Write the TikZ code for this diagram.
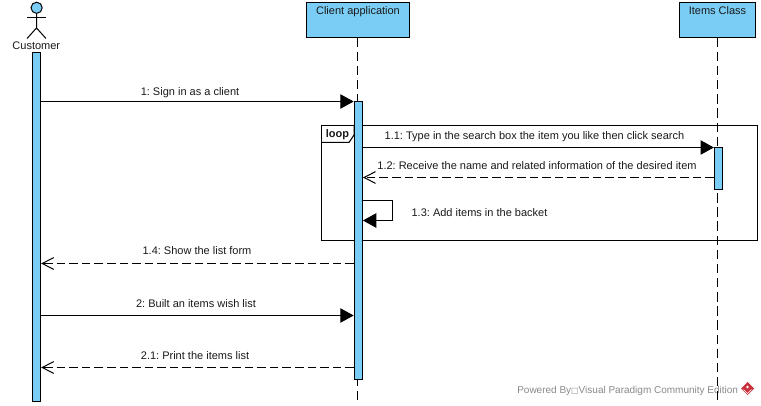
\documentclass[tikz,border=0pt]{standalone}
\usepackage{fontspec}
\setmainfont{Liberation Sans}
\newfontfamily\glyphfont{DejaVu Sans}
\usetikzlibrary{arrows.meta}
\definecolor{vpblue}{HTML}{7ACDF4}
\definecolor{vptext}{HTML}{1A1A1A}
\definecolor{vpgray}{HTML}{8A8A8A}
\definecolor{vpred}{HTML}{C8323C}
\tikzset{
  x=0.75pt, y=-0.75pt,
  every node/.style={font=\fontsize{8.25pt}{10pt}\selectfont\frenchspacing, text=vptext, inner sep=0pt},
  vpline/.style={line width=0.75pt, black},
  headbox/.style={draw=black, line width=0.75pt, fill=vpblue, minimum height=25.9pt},
  actbar/.style={draw=black, line width=0.75pt, fill=vpblue, minimum width=6.2pt},
  lifeline/.style={vpline, dash pattern=on 7pt off 3.6pt},
  callmsg/.style={vpline, -{Triangle[length=10pt,width=10.8pt]}},
  retmsg/.style={vpline, dash pattern=on 6.4pt off 3pt, -{Straight Barb[length=8.6pt,width=8.8pt,line width=0.75pt]}},
  msgtext/.style={anchor=base},
  stick/.style={line width=0.75pt, black}
}
\begin{document}
\begin{tikzpicture}
\useasboundingbox (0,0) rectangle (761,406);
\fill[white] (0,0) rectangle (761,406);

% watermark
\node[anchor=base west, text=vpgray, font=\fontsize{7.5pt}{10pt}\selectfont\frenchspacing] (wm) at (517,393.5) {Powered By{\glyphfont\fontsize{6pt}{8pt}\selectfont □}Visual Paradigm Community Edition};
\fill[vpred] (747.5,382) -- (754,388.5) -- (747.5,395) -- (741,388.5) -- cycle;
\draw[white, line width=0.5pt] (743.5,389.5) -- (747.5,393.5) -- (751.5,389.5);
\fill[white] (747.5,387) circle (1.4);

% heads
\node[headbox, minimum width=77.25pt] (client) at (358,20) {};
\node[headbox, minimum width=57pt] (items) at (717.5,20) {};
\node[msgtext] (clientlabel) at (358,14.6) {Client application};
\node[msgtext] (itemslabel) at (717.5,14.6) {Items Class};

% actor
\node[draw=black, line width=0.75pt, fill=vpblue, circle, minimum size=8.4pt] (head) at (36.6,7.8) {};
\coordinate (hip) at (36.5,28);
\coordinate (armL) at (27,18);
\coordinate (armR) at (46,18);
\coordinate (legL) at (27,38.5);
\coordinate (legR) at (46,38.5);
\draw[stick] (head.south) -- (hip);
\draw[stick] (armL) -- (armR);
\draw[stick] (legL) -- (hip) -- (legR);
\node[msgtext] (customer) at (36.3,49.3) {Customer};

% lifeline ends
\coordinate (clientEnd) at (357.5,402);
\coordinate (itemsEnd) at (717.5,402);
\draw[lifeline] (client.south -| clientEnd) -- (clientEnd);
\draw[lifeline] (items.south -| itemsEnd) -- (itemsEnd);

% loop frame
\node[draw=black, line width=0.75pt, minimum width=327pt, minimum height=86.25pt] (frame) at (539.5,183) {};
\coordinate (tabA) at (321.5,142.5);
\coordinate (tabB) at (349,142.5);
\coordinate (tabC) at (354,135);
\coordinate (tabD) at (354,125.5);
\draw[vpline] (tabA) -- (tabB) -- (tabC) -- (tabD);
\node[msgtext, font=\fontsize{8.25pt}{10pt}\selectfont\bfseries] (looplabel) at (337.5,137.4) {loop};

% activations
\node[actbar, minimum height=262pt] (custbar) at (36.5,227) {};
\node[actbar, minimum height=208.7pt] (clientbar) at (358.3,240.2) {};
\node[actbar, minimum height=31.5pt] (itemsbar) at (718.5,168.3) {};

% message rows
\coordinate (r1) at (0,101.5);
\coordinate (r11) at (0,147.5);
\coordinate (r12) at (0,177.5);
\coordinate (r13a) at (0,200.5);
\coordinate (r13b) at (0,220.5);
\coordinate (r14) at (0,263.5);
\coordinate (r2) at (0,315.5);
\coordinate (r21) at (0,367.5);
\coordinate (selfA) at (392.5,200.5);
\coordinate (selfB) at (392.5,220.5);

\draw[callmsg] (custbar.east |- r1) -- (clientbar.west |- r1);
\draw[callmsg] (clientbar.east |- r11) -- (itemsbar.west |- r11);
\draw[retmsg] (itemsbar.west |- r12) -- (clientbar.east |- r12);
\draw[callmsg] (clientbar.east |- r13a) -- (selfA) -- (selfB) -- (clientbar.east |- r13b);
\draw[retmsg] (clientbar.west |- r14) -- (custbar.east |- r14);
\draw[callmsg] (custbar.east |- r2) -- (clientbar.west |- r2);
\draw[retmsg] (clientbar.west |- r21) -- (custbar.east |- r21);

% labels
\node[msgtext] (m1) at (190,95.2) {1: Sign in as a client};
\node[msgtext] (m11) at (534.5,139.2) {1.1: Type in the search box the item you like then click search};
\node[msgtext] (m12) at (537,169.8) {1.2: Receive the name and related information of the desired item};
\node[msgtext] (m13) at (479.5,216.3) {1.3: Add items in the backet};
\node[msgtext] (m14) at (197,254.2) {1.4: Show the list form};
\node[msgtext] (m2) at (196,307.2) {2: Built an items wish list};
\node[msgtext] (m21) at (195,359.2) {2.1: Print the items list};
\end{tikzpicture}
\end{document}
